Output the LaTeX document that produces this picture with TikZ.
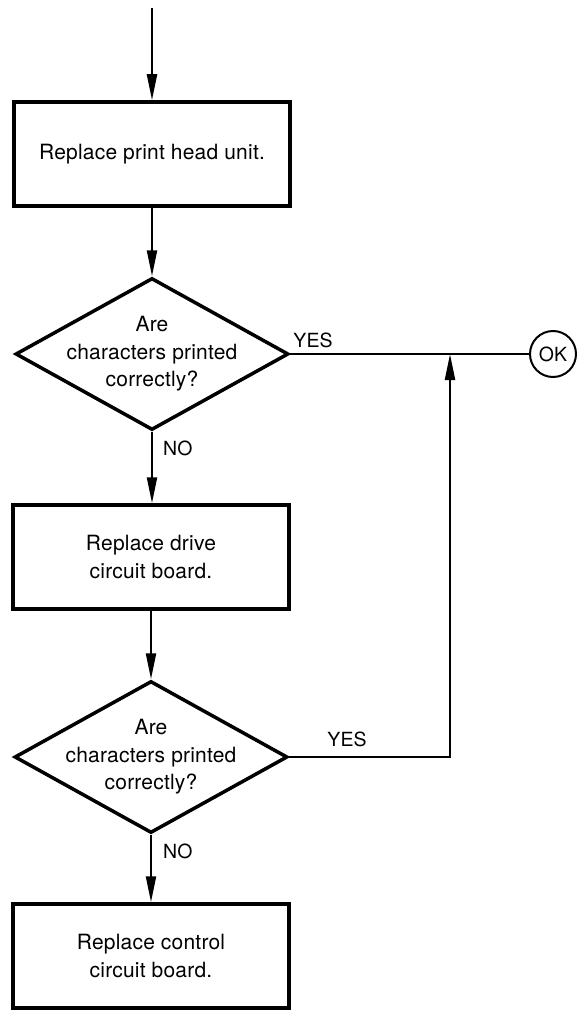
\documentclass[tikz,border=0pt]{standalone}
\usepackage{fontspec}
\setmainfont{TeX Gyre Heros}[LetterSpace=1]
\usetikzlibrary{arrows.meta,shapes.geometric}
\begin{document}
\begin{tikzpicture}[x=1pt,y=-1pt,
  txt/.style={font=\fontsize{21}{27.5}\selectfont, align=center, inner sep=0pt},
  stepbox/.style={draw, line width=3.5pt, minimum width=276pt, minimum height=104pt, inner sep=0pt},
  decision/.style={draw, diamond, line width=3.5pt, minimum width=273pt, minimum height=152pt, inner sep=0pt},
  arr/.style={line width=2.2pt, -{Triangle[length=26pt,width=10pt]}},
  conn/.style={line width=2.2pt},
  lbl/.style={font=\fontsize{19.5}{20}\selectfont, inner sep=0pt}]
\useasboundingbox (0,0) rectangle (576,1011);
\coordinate (start) at (152,8);
\node[stepbox] (b1) at (152,154) {};
\node[txt] (b1t) at (b1.center) {Replace print head unit.};
\node[decision] (d1) at (152,354) {};
\node[txt] (d1t) at (d1.center) {Are\\characters printed\\correctly?};
\node[stepbox] (b2) at (151,557) {};
\node[txt] (b2t) at (b2.center) {Replace drive\\circuit board.};
\node[decision] (d2) at (151,757) {};
\node[txt] (d2t) at (d2.center) {Are\\characters printed\\correctly?};
\node[stepbox] (b3) at (151,956) {};
\node[txt] (b3t) at (b3.center) {Replace control\\circuit board.};
\node[draw, circle, line width=2pt, minimum size=46pt, inner sep=0pt, font=\fontsize{19.5}{20}\selectfont] (ok) at (553,354) {OK};
\coordinate (j) at (450,354);

\draw[arr] (start) -- (b1.north);
\draw[arr] (b1.south) -- (d1.north);
\draw[conn] (d1.east) -- (ok.west);
\draw[arr] (d1.south) -- (b2.north -| d1.south);
\draw[arr] (b2.south -| d2.north) -- (d2.north);
\draw[arr] (d2.east) -| (j);
\draw[arr] (d2.south) -- (b3.north -| d2.south);

\node[lbl] (yes1) at (313,340) {YES};
\node[lbl] (yes2) at (347,739) {YES};
\node[lbl, anchor=west] (no1) at (163,448) {NO};
\node[lbl, anchor=west] (no2) at (163,851) {NO};
\end{tikzpicture}
\end{document}
